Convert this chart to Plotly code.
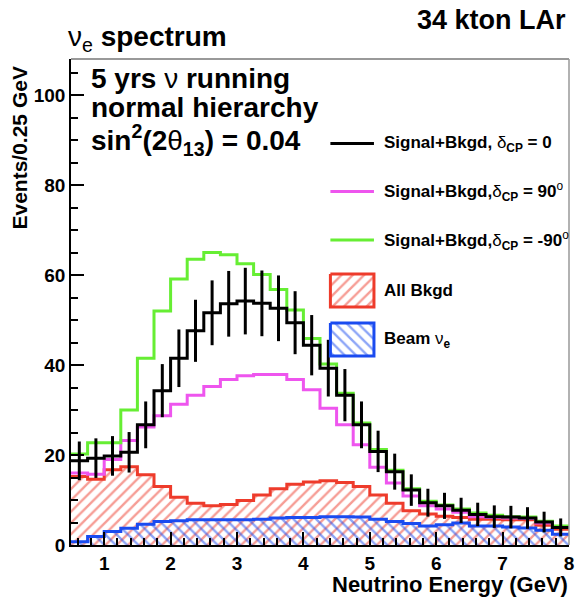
import numpy as np
import plotly.graph_objects as go

# ---------------- data (Events / 0.25 GeV) ----------------
bin_edges = list(np.round(np.arange(0.5, 8.001, 0.25), 2))          # 31 edges, 0.5 .. 8 GeV
sig_dcp0 = [18.7, 19.3, 19.8, 20.6, 26.7, 34.3, 41.5, 47.6, 51.6, 53.6,
            54.2, 53.7, 52.6, 49.4, 44.4, 39.3, 33.3, 26.7, 20.8, 16.3,
            12.2, 9.4, 8.7, 7.7, 6.8, 6.3, 6.2, 6.0, 5.1, 3.9]
err_dcp0 = [4.3, 4.4, 4.4, 4.5, 5.2, 5.9, 6.4, 6.9, 7.2, 7.3,
            7.4, 7.3, 7.3, 7.0, 6.7, 6.3, 5.8, 5.2, 4.6, 4.0,
            3.5, 3.1, 2.9, 2.8, 2.6, 2.5, 2.5, 2.4, 2.3, 2.0]
sig_dcp90 = [16.0, 15.7, 19.0, 23.2, 26.2, 28.7, 31.3, 33.3, 35.2, 36.8,
             37.6, 37.9, 37.9, 36.8, 34.5, 30.4, 26.7, 22.3, 17.3, 13.8,
             10.9, 8.7, 8.0, 7.3, 6.3, 6.1, 6.0, 5.9, 4.9, 3.9]
sig_dcpm90 = [20.2, 22.7, 22.7, 30.0, 41.5, 52.0, 59.1, 63.5, 65.0, 64.5,
              62.5, 60.1, 56.8, 52.2, 45.9, 40.2, 33.7, 27.1, 21.2, 16.6,
              12.5, 9.7, 8.9, 8.0, 7.1, 6.6, 6.3, 6.2, 5.3, 4.2]
all_bkgd = [15.2, 14.6, 16.7, 17.4, 15.6, 13.0, 10.6, 9.3, 8.7, 9.0,
            9.9, 11.1, 12.5, 13.5, 14.0, 14.3, 13.9, 13.0, 11.1, 9.3,
            7.6, 6.9, 6.4, 6.1, 5.7, 5.7, 5.6, 5.6, 4.4, 3.5]
beam_nue = [0.7, 1.9, 3.0, 3.7, 4.6, 5.2, 5.4, 5.6, 5.6, 5.6,
            5.6, 5.7, 6.0, 6.1, 6.1, 6.3, 6.3, 6.2, 5.7, 5.2,
            4.8, 4.2, 4.5, 4.9, 4.2, 4.2, 4.0, 3.8, 3.3, 2.4]

legend_labels = [
    "<b>Signal+Bkgd, </b>δ<sub><b>CP</b></sub><b> = 0</b>",
    "<b>Signal+Bkgd,</b>δ<sub><b>CP</b></sub><b> = 90</b><sup>o</sup>",
    "<b>Signal+Bkgd,</b>δ<sub><b>CP</b></sub><b> = -90</b><sup>o</sup>",
    "<b>All Bkgd</b>",
    "<b>Beam </b>ν<sub><b>e</b></sub>",
]

# ---------------- styling ----------------
W, H = 581, 602
ML, MR, MT, MB = 71, 7, 59, 57
FONT = "Liberation Sans"
C_BLACK = "#000000"
C_MAG = "#EE55EE"
C_GREEN = "#66EE33"
C_RED = "#EE3B2B"
C_BLUE = "#1A4BF0"
HATCH_SIZE = 8
HATCH_SOLID = 0.3


def xp(px):
    return (px - ML) / (W - ML - MR)


def yp(py):
    return (H - MB - py) / (H - MT - MB)


def step(vals):
    return bin_edges, list(vals) + [vals[-1]]


centers = [(bin_edges[i] + bin_edges[i + 1]) / 2 for i in range(len(bin_edges) - 1)]

fig = go.Figure()

x, y = step(all_bkgd)
fig.add_trace(go.Scatter(x=x, y=y, mode="lines", line=dict(shape="hv", color=C_RED, width=3),
                         fill="tozeroy", fillcolor="rgba(0,0,0,0)",
                         fillpattern=dict(shape="/", fgcolor=C_RED, size=HATCH_SIZE, solidity=HATCH_SOLID)))
x, y = step(beam_nue)
fig.add_trace(go.Scatter(x=x, y=y, mode="lines", line=dict(shape="hv", color=C_BLUE, width=3),
                         fill="tozeroy", fillcolor="rgba(0,0,0,0)",
                         fillpattern=dict(shape="\\", fgcolor=C_BLUE, size=HATCH_SIZE, solidity=HATCH_SOLID)))
x, y = step(sig_dcp90)
fig.add_trace(go.Scatter(x=x, y=y, mode="lines", line=dict(shape="hv", color=C_MAG, width=3)))
x, y = step(sig_dcpm90)
fig.add_trace(go.Scatter(x=x, y=y, mode="lines", line=dict(shape="hv", color=C_GREEN, width=3)))
x, y = step(sig_dcp0)
fig.add_trace(go.Scatter(x=x, y=y, mode="lines", line=dict(shape="hv", color=C_BLACK, width=3)))
fig.add_trace(go.Scatter(x=centers, y=sig_dcp0, mode="markers",
                         marker=dict(size=1, color=C_BLACK),
                         error_y=dict(type="data", array=err_dcp0, visible=True,
                                      color=C_BLACK, thickness=3, width=0)))

# legend boxes (hatched) on a pixel-based overlay axis
box_x = [333, 377, 377, 333, 333]
for (top, bot), col, shp in [((274, 307), C_RED, "/"), ((323, 356), C_BLUE, "\\")]:
    fig.add_trace(go.Scatter(x=box_x, y=[top, top, bot, bot, top], xaxis="x2", yaxis="y2",
                             mode="lines", line=dict(color=col, width=3),
                             fill="toself", fillcolor="rgba(0,0,0,0)",
                             fillpattern=dict(shape=shp, fgcolor=col, size=HATCH_SIZE, solidity=HATCH_SOLID)))

shapes = []
# frame top / right
shapes.append(dict(type="line", xref="paper", yref="paper", x0=0, x1=1, y0=1, y1=1,
                   line=dict(color="#777", width=1.5)))
shapes.append(dict(type="line", xref="paper", yref="paper", x0=1, x1=1, y0=0, y1=1,
                   line=dict(color="#999", width=1.5)))
# legend line samples
for py, col in [(143.5, C_BLACK), (191.5, C_MAG), (240, C_GREEN)]:
    shapes.append(dict(type="line", xref="paper", yref="paper", x0=xp(333), x1=xp(377),
                       y0=yp(py), y1=yp(py), line=dict(color=col, width=3)))

annotations = []
leg_rows = [143.5, 191.5, 240, 290.5, 339.5]
for lab, py in zip(legend_labels, leg_rows):
    annotations.append(dict(text=lab, x=xp(385), y=yp(py), xref="paper", yref="paper",
                            xanchor="left", yanchor="middle", showarrow=False,
                            font=dict(family=FONT, size=17, color="black")))

info_lines = ["<b>5 yrs </b>ν<b> running</b>",
              "<b>normal hierarchy</b>",
              "<b>sin</b><sup><b>2</b></sup><b>(2</b>θ<sub><b>13</b></sub><b>) = 0.04</b>"]
for txt, py in zip(info_lines, [78, 107, 140]):
    annotations.append(dict(text=txt, x=xp(89), y=yp(py), xref="paper", yref="paper",
                            xanchor="left", yanchor="middle", showarrow=False,
                            font=dict(family=FONT, size=28, color="black")))

annotations.append(dict(text="<b>34 kton LAr</b>", x=xp(573), y=yp(20), xref="paper", yref="paper",
                        xanchor="right", yanchor="middle", showarrow=False,
                        font=dict(family=FONT, size=27, color="black")))
annotations.append(dict(text="ν<sub>e</sub><b> spectrum</b>", x=xp(66), y=yp(38), xref="paper",
                        yref="paper", xanchor="left", yanchor="middle", showarrow=False,
                        font=dict(family=FONT, size=28, color="black")))
annotations.append(dict(text="<b>Neutrino Energy (GeV)</b>", x=xp(575), y=yp(584), xref="paper",
                        yref="paper", xanchor="right", yanchor="middle", showarrow=False,
                        font=dict(family=FONT, size=22, color="black")))
annotations.append(dict(text="<b>Events/0.25 GeV</b>", x=xp(18), y=yp(148), xref="paper",
                        yref="paper", xanchor="center", yanchor="middle", textangle=-90,
                        showarrow=False, font=dict(family=FONT, size=21, color="black")))

fig.update_layout(
    width=W, height=H, margin=dict(l=ML, r=MR, t=MT, b=MB),
    paper_bgcolor="white", plot_bgcolor="white", showlegend=False,
    shapes=shapes, annotations=annotations,
    xaxis=dict(range=[0.5, 8], tickmode="linear", tick0=0, dtick=1, ticks="inside",
               ticklen=13, tickwidth=1.5, tickcolor="black",
               minor=dict(dtick=0.2, tick0=0, ticks="inside", ticklen=7, tickwidth=1.5, tickcolor="black"),
               showgrid=False, zeroline=False, showline=True, linecolor="black", linewidth=1.5,
               tickfont=dict(family=FONT, size=19, color="black", weight="bold")),
    yaxis=dict(range=[0, 108], tickmode="linear", tick0=0, dtick=20, ticks="inside",
               ticklen=13, tickwidth=1.5, tickcolor="black",
               minor=dict(dtick=5, tick0=0, ticks="inside", ticklen=7, tickwidth=1.5, tickcolor="black"),
               showgrid=False, zeroline=False, showline=True, linecolor="black", linewidth=1.5,
               tickfont=dict(family=FONT, size=19, color="black", weight="bold")),
    xaxis2=dict(overlaying="x", range=[ML, W - MR], visible=False),
    yaxis2=dict(overlaying="y", range=[H - MB, MT], visible=False),
)

fig.write_html("out.html")
